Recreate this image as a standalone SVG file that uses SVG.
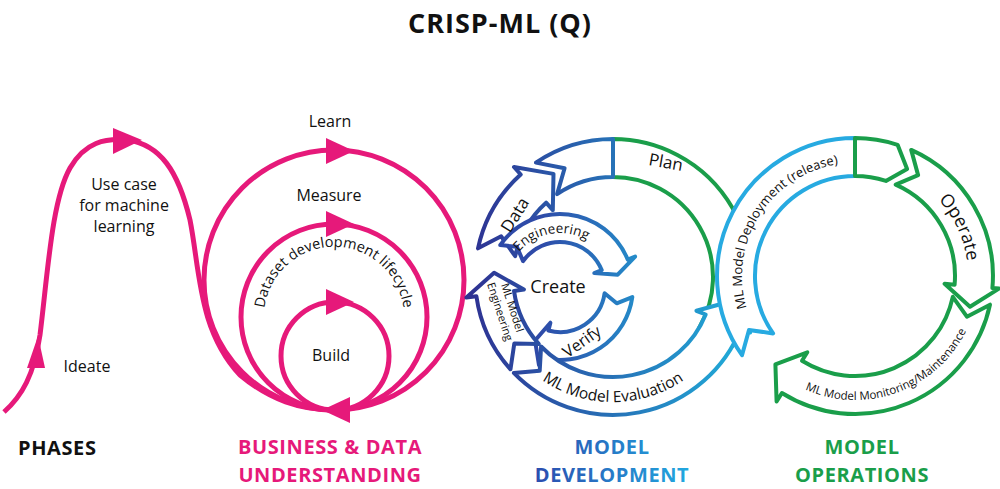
<svg xmlns="http://www.w3.org/2000/svg" width="1000" height="489" viewBox="0 0 1000 489">
<defs>
<linearGradient id="gb" gradientUnits="userSpaceOnUse" x1="470" y1="0" x2="760" y2="0"><stop offset="0" stop-color="#2e3192"/><stop offset="1" stop-color="#1fb5de"/></linearGradient>
<linearGradient id="gt" gradientUnits="userSpaceOnUse" x1="540" y1="0" x2="690" y2="0"><stop offset="0" stop-color="#2e4aa8"/><stop offset="1" stop-color="#1fb0dc"/></linearGradient>
<linearGradient id="gh" gradientUnits="userSpaceOnUse" x1="540" y1="0" x2="690" y2="0"><stop offset="0" stop-color="#2b4fb0"/><stop offset="1" stop-color="#21a9e0"/></linearGradient>
<path id="pEng" d="M513.2,260 A54,54 0 0 1 594.7,245.6"/>
<path id="pEval" d="M504.7,339.5 A125,125 0 0 0 721.3,339.5"/>
<path id="pDep" d="M748.8,314.6 A113,113 0 0 1 845.2,163.4"/>
<path id="pOp" d="M919.9,183.4 A113,113 0 0 1 967.6,285.8"/>
<path id="pMon" d="M783.9,377.6 A124,124 0 0 0 974.8,308.1"/>
<path id="pDs" d="M265.1,329.2 A70,70 0 1 1 402.9,329.2"/>
</defs>
<style>
.t{font-family:"Open Sans","Liberation Sans",sans-serif;fill:#111;}
.h{font-family:"Open Sans","Liberation Sans",sans-serif;font-weight:700;font-size:20px;letter-spacing:0.6px;}
.band{fill:#fff;stroke-width:4;stroke-linejoin:round;}
.pk{fill:none;stroke:#e6197a;stroke-width:5;}
.tri{fill:#e6197a;}
</style>
<rect width="1000" height="489" fill="#fff"/>
<text class="t" x="500" y="33" text-anchor="middle" font-size="27" font-weight="700" letter-spacing="1">CRISP-ML (Q)</text>

<g id="connectors">
<path class="pk" d="M4,412 C22,396 34,375 40,335 C48,270 52,200 70,168 C85,142 105,138 128,140 C160,145 178,170 190,220 C200,270 198,330 240,375 C270,400 300,410 335,410"/>
<polygon class="tri" points="38,336 27,368 45,368"/>
<polygon class="tri" points="142,140 113,128 113,154"/>
</g>

<g id="business">
<circle class="pk" cx="334" cy="280" r="130"/>
<circle class="pk" cx="334" cy="317" r="93"/>
<circle class="pk" cx="335" cy="356" r="54"/>
<polygon class="tri" points="354,151 326,138 326,164"/>
<polygon class="tri" points="354,224 326,211 326,237"/>
<polygon class="tri" points="354,302 326,289 326,315"/>
<polygon class="tri" points="322,410 350,397 350,423"/>
<text class="t" x="330" y="127" text-anchor="middle" font-size="16">Learn</text>
<text class="t" x="329" y="201" text-anchor="middle" font-size="16">Measure</text>
<text class="t" x="331" y="361" text-anchor="middle" font-size="16">Build</text>
<text class="t" font-size="14.5"><textPath href="#pDs" startOffset="50%" text-anchor="middle">Dataset development lifecycle</textPath></text>
<text class="t" x="124" y="190" text-anchor="middle" font-size="16">Use case</text>
<text class="t" x="124" y="211" text-anchor="middle" font-size="16">for machine</text>
<text class="t" x="124" y="232" text-anchor="middle" font-size="16">learning</text>
<text class="t" x="87" y="372" text-anchor="middle" font-size="16">Ideate</text>
</g>

<g id="development">
<path class="band" stroke="#1a9e4a" d="M613,139 A138,138 0 0 1 732.5,346 L699.6,327 A100,100 0 0 0 613,177 Z"/>
<path class="band" stroke="url(#gb)" d="M535.9,162.6 A138,138 0 0 1 613,139 L613,177 A100,100 0 0 0 557.1,194.1 L564.6,168.2 Z"/>
<path class="band" stroke="url(#gb)" d="M478,248.3 A138,138 0 0 1 520.7,174.5 L514,167 L553.5,173.9 L552.8,210.1 L546.1,202.7 A100,100 0 0 0 515.2,256.2 L501.2,236.3 Z"/>
<path class="band" stroke="url(#gt)" d="M500.2,245.1 A73,73 0 0 1 627.7,259.6 L635.1,256.6 L617.7,274.7 L594.3,273.1 L601.7,270.1 A45,45 0 0 0 523.1,261.2 L516.9,246.8 Z"/>
<path class="band" stroke="url(#gt)" d="M632.3,297.1 A73,73 0 0 1 541.1,357.5 L539,365.2 L535,340.5 L550.4,322.7 L548.4,330.5 A45,45 0 0 0 604.6,293.3 L616.7,303.3 Z"/>
<path class="band" stroke="url(#gb)" d="M510.5,369.3 A138,138 0 0 1 476.4,296.2 L466.4,297.6 L494.1,272.8 L523.9,289.5 L514,290.9 A100,100 0 0 0 538.7,343.9 L514.3,343.5 Z"/>
<path class="band" stroke="url(#gb)" d="M513.8,372.9 A138,138 0 0 0 740.9,328.7 L750.2,332.5 L729.4,301.8 L696.4,310.8 L705.7,314.5 A100,100 0 0 1 541.1,346.5 L539.7,370.8 Z"/>
<text class="t" x="648" y="165" font-size="17" transform="rotate(10 648 165)">Plan</text>
<text class="t" x="520" y="218" text-anchor="middle" font-size="17" transform="rotate(-58 520 218)">Data</text>
<text class="t" font-size="13.5"><textPath href="#pEng" startOffset="50%" text-anchor="middle">Engineering</textPath></text>
<text class="t" x="558" y="293" text-anchor="middle" font-size="18">Create</text>
<text class="t" x="585" y="346" text-anchor="middle" font-size="16" transform="rotate(-35 585 346)">Verify</text>
<text class="t" font-size="11" text-anchor="middle" transform="rotate(72 505 310)"><tspan x="505" y="306">ML Model</tspan><tspan x="505" y="319">Engineering</tspan></text>
<text class="t" font-size="15.5"><textPath href="#pEval" startOffset="50%" text-anchor="middle">ML Model Evaluation</textPath></text>
</g>

<g id="operations">
<path class="band" stroke="#27aae1" d="M742,355.2 A138,138 0 0 1 855,138 L855,176 A100,100 0 0 0 773.1,333.4 L749,330 Z"/>
<path class="band" stroke="#1a9e4a" d="M855,138 A138,138 0 0 1 897.6,144.8 L907.1,169 L885.9,180.9 A100,100 0 0 0 855,176 Z"/>
<path class="band" stroke="#1a9e4a" d="M911.2,149.9 A138,138 0 0 1 992.4,288 L999,288.6 L970,306.8 L944.6,283.8 L954.6,284.7 A100,100 0 0 0 895.7,184.6 L918.1,175.1 Z"/>
<path class="band" stroke="#1a9e4a" d="M990,304.7 A138,138 0 0 1 781.9,393 L776.6,401.5 L775.4,364.4 L807.3,352.3 L802,360.8 A100,100 0 0 0 952.8,296.8 L966.9,316.7 Z"/>
<text class="t" font-size="13"><textPath href="#pDep" startOffset="50%" text-anchor="middle">ML Model Deployment (release)</textPath></text>
<text class="t" font-size="18"><textPath href="#pOp" startOffset="50%" text-anchor="middle">Operate</textPath></text>
<text class="t" font-size="11.5"><textPath href="#pMon" startOffset="50%" text-anchor="middle">ML Model Monitoring/Maintenance</textPath></text>
</g>

<g id="labels">
<text class="h" x="18" y="455" fill="#111">PHASES</text>
<text class="h" x="330" y="454" text-anchor="middle" fill="#e6197a">BUSINESS &amp; DATA</text>
<text class="h" x="330" y="482" text-anchor="middle" fill="#e6197a">UNDERSTANDING</text>
<text class="h" x="612" y="454" text-anchor="middle" fill="url(#gh)">MODEL</text>
<text class="h" x="612" y="482" text-anchor="middle" fill="url(#gh)">DEVELOPMENT</text>
<text class="h" x="862" y="454" text-anchor="middle" fill="#1a9e4a">MODEL</text>
<text class="h" x="862" y="482" text-anchor="middle" fill="#1a9e4a">OPERATIONS</text>
</g>
</svg>
